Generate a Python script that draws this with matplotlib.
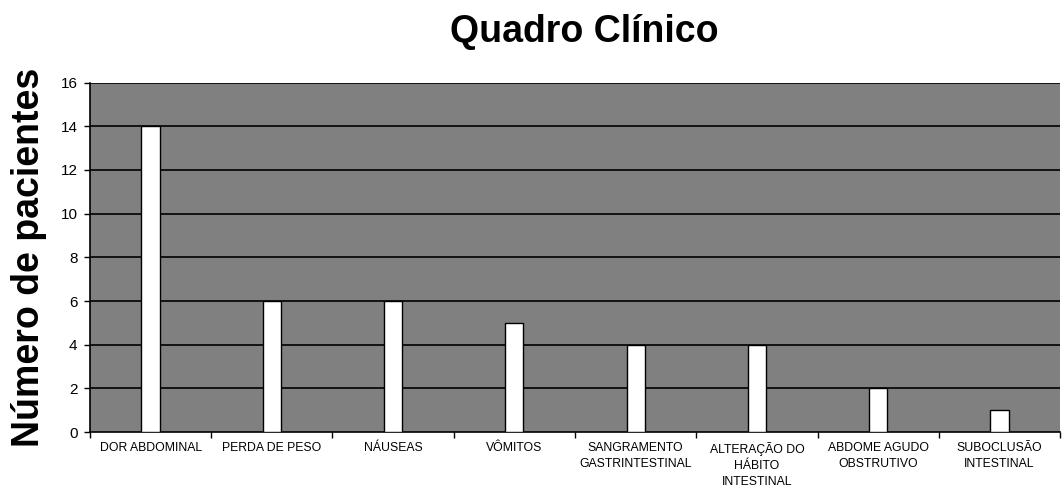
import matplotlib
matplotlib.use("Agg")
import matplotlib.pyplot as plt
import numpy as np

categories = ["DOR ABDOMINAL", "PERDA DE PESO", "NÁUSEAS", "VÔMITOS",
              "SANGRAMENTO\nGASTRINTESTINAL", "ALTERAÇÃO DO\nHÁBITO\nINTESTINAL",
              "ABDOME AGUDO\nOBSTRUTIVO", "SUBOCLUSÃO\nINTESTINAL"]
values = [14, 6, 6, 5, 4, 4, 2, 1]
yticks = [0, 2, 4, 6, 8, 10, 12, 14, 16]

plt.rcParams['font.family'] = ['Liberation Sans', 'DejaVu Sans']

fig = plt.figure(figsize=(10.62, 4.86), dpi=100)
ax = fig.add_axes([0.0847, 0.111, 0.9135, 0.719])
ax.set_facecolor('#808080')

x = np.arange(len(categories))
ax.bar(x, values, width=0.15, color='white', edgecolor='black', linewidth=1.0, zorder=3)

ax.set_ylim(0, 16)
ax.set_xlim(-0.5, len(categories) - 0.5)
ax.set_yticks(yticks)
ax.set_yticklabels([str(v) for v in yticks], fontsize=11)
for v in yticks[1:]:
    ax.axhline(v, color='black', linewidth=1.2, zorder=2)

ax.set_xticks(x)
ax.set_xticklabels(categories, fontsize=8.8, linespacing=1.45, va='top')
ax.tick_params(axis='x', which='major', length=0, pad=7)
ax.set_xticks(np.arange(len(categories) + 1) - 0.5, minor=True)
ax.tick_params(axis='x', which='minor', length=4, width=1, direction='out')
ax.tick_params(axis='y', length=4, width=1, direction='out', pad=5)

for s in ['top', 'right']:
    ax.spines[s].set_visible(False)
for s in ['left', 'bottom']:
    ax.spines[s].set_color('black')
    ax.spines[s].set_linewidth(1.2)

fig.text(0.027, 0.47, 'Número de pacientes', rotation=90, ha='center', va='center',
         fontsize=27, fontweight='bold')
fig.text(0.55, 0.935, 'Quadro Clínico', ha='center', va='center', fontsize=27, fontweight='bold')

fig.savefig('out.png', dpi=100)
